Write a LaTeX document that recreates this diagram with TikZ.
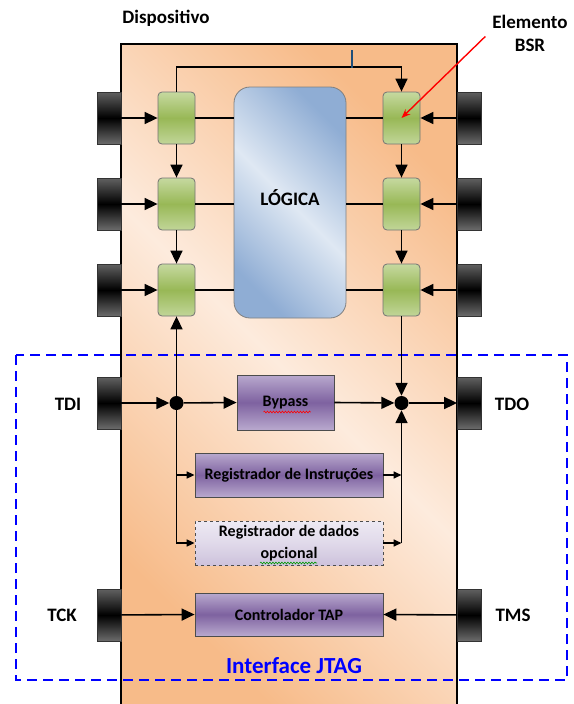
\documentclass[tikz,border=0pt]{standalone}
\usepackage{fontspec}
\setmainfont{Carlito}
\usepackage{tikz}
\usetikzlibrary{arrows.meta,positioning,decorations.pathmorphing}

\definecolor{laranja}{HTML}{F7BB89}
\definecolor{pessego}{HTML}{FDEBDD}
\definecolor{azulE}{HTML}{8FADD4}
\definecolor{azulC}{HTML}{DFE8F3}
\definecolor{verdeC}{HTML}{C6D9A0}
\definecolor{verdeE}{HTML}{98B856}
\definecolor{roxoC}{HTML}{B9A9CE}
\definecolor{roxoE}{HTML}{7E62A0}
\definecolor{lilasC}{HTML}{EDE9F3}
\definecolor{lilasE}{HTML}{CDC2DC}
\definecolor{marcaAzul}{HTML}{1F4E79}

\begin{document}
\begin{tikzpicture}[x=1pt, y=-1pt,
  pino/.style={draw=black!80, line width=0.8pt, top color=black!62, bottom color=black!58,
               middle color=black, minimum width=24pt, minimum height=52pt, inner sep=0pt},
  celula/.style={draw=black!55, line width=0.8pt, rounded corners=4pt, top color=verdeC,
                 bottom color=verdeC!90!verdeE, middle color=verdeE, minimum width=37pt,
                 minimum height=52pt, inner sep=0pt},
  registro/.style={draw=black!70, line width=0.8pt, top color=roxoC, bottom color=roxoC,
                   middle color=roxoE, minimum width=188pt, minimum height=44pt, inner sep=2pt,
                   align=center, font=\bfseries\fontsize{16}{22}\selectfont},
  ponto/.style={circle, fill=black, minimum size=14pt, inner sep=0pt},
  arr/.style={-{Triangle[length=13pt, width=12pt]}, line width=1.6pt},
  arrs/.style={-{Triangle[length=8pt, width=7pt]}, line width=1.6pt},
  lin/.style={line width=1.6pt},
  onda/.style={line width=0.6pt, decorate, decoration={snake, amplitude=0.9pt, segment length=3pt}},
  lbl/.style={font=\bfseries\fontsize{19}{23}\selectfont}
]
\useasboundingbox (0,0) rectangle (573,704);

% Dispositivo
\shade[top color=laranja, bottom color=laranja, middle color=pessego, shading angle=-45]
  (121,44) rectangle (457,704);
\draw[line width=1.6pt] (121,704) -- (121,44) -- (457,44) -- (457,704);

% Interface JTAG
\draw[blue, line width=2pt, dash pattern=on 10pt off 6pt] (16,355) rectangle (567,680);

% Lógica e células BSR
\node[draw=black!50, line width=0.8pt, rounded corners=16pt, top color=azulE, bottom color=azulE,
      middle color=azulC, shading angle=-45, minimum width=112pt, minimum height=231pt,
      font=\bfseries\fontsize{19}{23}\selectfont] (logica) at (290,202.5) {\raisebox{9pt}{LÓGICA}};

\foreach \i/\y in {1/118, 2/204, 3/290} {
  \node[pino]   (pe\i) at (109,\y)   {};
  \node[pino]   (pd\i) at (469.5,\y) {};
  \node[celula] (ce\i) at (176.5,\y) {};
  \node[celula] (cd\i) at (401.5,\y) {};
}

% Pinos JTAG
\node[pino] (tdi) at (109,403)   {};
\node[pino] (tck) at (109,615)   {};
\node[pino] (tdo) at (469.5,403) {};
\node[pino] (tms) at (469.5,615) {};

% Registradores
\node[registro, minimum width=97pt, minimum height=55pt] (bypass) at (285.5,402.5) {Bypass};
\node[registro] (instr) at (289,475) {Registrador de Instruções};
\node[registro, dashed, top color=lilasC, bottom color=lilasE, middle color=lilasC!60!lilasE]
  (dados) at (289,543) {Registrador de dados\\opcional};
\node[registro, minimum height=43pt] (tap) at (289,614.5) {Controlador TAP};

% sublinhados do corretor
\draw[onda, red] ([xshift=-22pt, yshift=-9.5pt]bypass.center) -- ++(47,0);
\draw[onda, green!60!black] ([xshift=-29pt, yshift=-20pt]dados.center) -- ++(57,0);

\node[ponto] (je) at (176.5,403) {};
\node[ponto] (jd) at (401.5,403) {};
\coordinate (topo) at (290,67);
\coordinate (marca) at (352,50);

% Cadeia BSR
\foreach \i in {1,2,3} {
  \draw[arr] (pe\i) -- (ce\i);
  \draw[arr] (pd\i) -- (cd\i);
  \draw[lin] (ce\i.east) -- (ce\i.east -| logica.west);
  \draw[lin] (logica.east |- cd\i.west) -- (cd\i.west);
}
\draw[arr] (ce1) -- (ce2);
\draw[arr] (ce2) -- (ce3);
\draw[arr] (cd1) -- (cd2);
\draw[arr] (cd2) -- (cd3);
\draw[arr] (ce1.north) |- (topo) -| (cd1.north);
\draw[marcaAzul, line width=1.4pt] (marca) -- ++(0,18);

% Entrada TDI
\draw[arr] (tdi) -- (je);
\draw[arr] (je) -- (ce3.south);
\draw[arr] (je) -- (bypass.west);
\draw[arrs] (je) |- (instr.west);
\draw[arrs] (je) |- (dados.west);

% Saída TDO
\draw[arr] (cd3.south) -- (jd);
\draw[arr] (bypass.east) -- (jd);
\draw[arrs] (instr.east) -- (instr.east -| jd);
\draw[arrs] (dados.east) -- (dados.east -| jd);
\draw[arr] (dados.east -| jd) -- (jd);
\draw[arr] (jd) -- (tdo);

% Controle
\draw[arr] (tck) -- (tap.west);
\draw[arr] (tms) -- (tap.east);

% Rótulos
\node[lbl] (disp) at (166,18) {Dispositivo};
\node[lbl, align=center] (elem) at (530,33) {Elemento\\BSR};
\draw[red, line width=1.4pt, -{Stealth[length=9pt, width=7pt]}, shorten <=5pt] (elem.west) -- (cd1.center);
\node[lbl] (ltdi) at (68,404)  {TDI};
\node[lbl] (ltdo) at (512,404) {TDO};
\node[lbl] (ltck) at (62,615)  {TCK};
\node[lbl] (ltms) at (513,615) {TMS};
\node[text=blue, font=\bfseries\fontsize{23}{26}\selectfont] (jtag) at (294,666) {Interface JTAG};

\end{tikzpicture}
\end{document}
